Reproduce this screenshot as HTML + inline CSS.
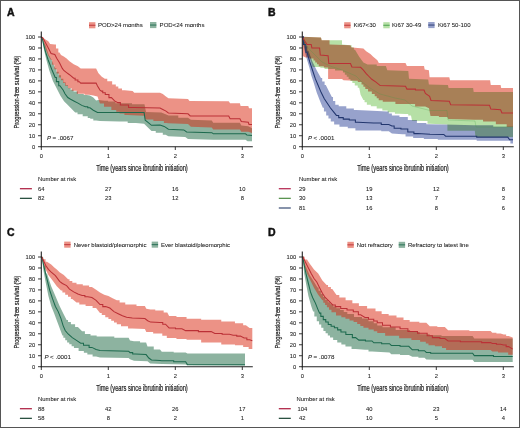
<!DOCTYPE html>
<html><head><meta charset="utf-8"><style>
html,body{margin:0;padding:0;background:#fff;}
.wrap{position:relative;width:520px;height:428px;overflow:hidden;box-sizing:border-box;}
svg{position:absolute;left:0;top:0;}
svg text{font-family:"Liberation Sans", sans-serif;}
</style></head><body><div class="wrap">
<svg width="520" height="428" viewBox="0 0 520 428">
<rect x="0" y="0" width="520" height="428" fill="#fff"/>
<text x="6.9" y="15.8" font-size="10.5" text-anchor="start" font-weight="bold" font-style="normal" fill="#111" stroke="#111" stroke-width="0.45" >A</text>
<rect x="89" y="22.2" width="6.4" height="6.1" fill="#ec9286"/>
<line x1="89" y1="25.25" x2="95.4" y2="25.25" stroke="#bb3036" stroke-width="0.9"/>
<text x="97.9" y="27.2" font-size="6.05" text-anchor="start" font-weight="normal" font-style="normal" fill="#222" stroke="#222" stroke-width="0.07" >POD&gt;24 months</text>
<rect x="150" y="22.0" width="6.4" height="6.1" fill="#8db3a0"/>
<line x1="150" y1="25.05" x2="156.4" y2="25.05" stroke="#1d6a4e" stroke-width="0.9"/>
<text x="159.6" y="27.2" font-size="6.05" text-anchor="start" font-weight="normal" font-style="normal" fill="#222" stroke="#222" stroke-width="0.07" >POD&lt;24 months</text>
<polygon points="41.30,37.00 45.50,45.00 48.80,55.00 51.70,60.00 55.20,68.20 56.38,68.20 56.38,71.70 58.73,71.70 58.73,75.20 59.90,75.20 61.05,75.20 61.05,78.70 63.35,78.70 63.35,82.20 64.50,82.20 65.67,82.20 65.67,85.10 68.03,85.10 68.03,88.00 69.20,88.00 70.65,88.00 70.65,89.75 73.55,89.75 73.55,91.50 75.00,91.50 77.95,91.50 77.95,93.90 80.90,93.90 83.80,93.90 83.80,95.00 86.70,95.00 90.00,95.50 93.30,97.60 96.10,100.40 98.30,99.90 104.80,100.70 108.10,100.70 108.10,101.60 111.40,101.60 115.45,101.60 115.45,103.20 119.50,103.20 132.00,103.20 132.00,104.30 144.50,104.30 146.00,112.00 161.30,112.50 165.00,114.00 168.60,115.50 178.30,115.50 178.30,117.70 188.00,117.70 190.90,119.80 211.80,120.60 213.20,122.70 239.90,122.70 241.30,125.50 248.30,126.20 252.00,128.30 252.00,141.20 247.60,141.20 245.50,139.80 213.30,139.70 188.00,139.00 185.20,136.90 168.40,136.20 165.60,134.80 162.80,134.80 162.80,132.70 160.00,132.70 155.75,132.70 155.75,131.00 151.50,131.00 147.40,127.10 144.10,123.80 135.90,123.00 127.70,123.00 127.70,121.40 119.50,121.40 100.00,121.00 96.10,120.60 93.30,120.60 93.30,118.70 90.50,118.70 90.00,118.00 87.75,118.00 87.75,116.20 85.50,116.20 82.70,116.20 82.70,114.30 79.90,114.30 77.55,114.30 77.55,112.40 75.20,112.40 71.50,108.70 67.80,105.00 64.00,101.20 60.30,95.60 57.50,90.00 55.50,86.00 52.90,81.00 49.30,70.50 46.40,60.00 43.60,48.00 42.10,38.20 41.30,37.50" fill="#8db3a0"/>
<polygon points="41.30,37.00 42.70,37.60 45.50,39.50 48.30,41.30 50.10,44.10 54.80,44.60 55.97,44.60 55.97,48.60 58.33,48.60 58.33,52.60 59.50,52.60 61.00,55.00 63.80,56.40 66.60,58.50 69.50,61.30 73.70,64.20 77.90,66.30 80.70,68.40 96.10,68.40 97.50,71.20 98.30,73.10 101.50,76.40 104.80,78.80 107.25,78.80 107.25,81.30 109.70,81.30 112.15,81.30 112.15,84.50 114.60,84.50 115.82,84.50 115.82,86.55 118.28,86.55 118.28,88.60 119.50,88.60 122.00,88.60 122.00,90.30 124.50,90.30 132.60,91.10 134.30,92.70 160.00,92.70 162.80,94.10 165.60,96.20 168.40,98.30 188.00,99.00 189.50,101.10 228.70,101.20 230.10,103.30 239.90,103.30 240.60,106.10 248.30,106.10 249.00,108.20 252.00,108.20 252.00,133.10 248.30,131.70 241.30,131.70 239.90,129.60 213.20,129.60 211.80,127.50 190.90,126.70 188.00,123.90 168.40,123.20 166.50,123.10 163.90,123.10 163.90,121.00 161.30,121.00 153.40,121.00 153.40,119.40 145.50,119.40 144.10,115.80 127.70,115.00 124.45,115.00 124.45,113.40 121.20,113.40 119.55,113.40 119.55,111.75 116.25,111.75 116.25,110.10 114.60,110.10 111.35,110.10 111.35,106.80 108.10,106.80 104.00,106.80 104.00,103.60 99.90,103.60 97.50,96.50 93.30,95.50 89.10,94.80 84.55,94.80 84.55,93.80 80.00,93.80 76.75,93.80 76.75,90.80 73.50,90.80 71.62,90.80 71.62,88.25 67.88,88.25 67.88,85.70 66.00,85.70 65.00,85.70 65.00,82.97 63.00,82.97 63.00,80.23 61.00,80.23 61.00,77.50 60.00,77.50 58.88,77.50 58.88,73.40 56.62,73.40 56.62,69.30 55.50,69.30 54.38,69.30 54.38,64.65 52.12,64.65 52.12,60.00 51.00,60.00 48.20,55.40 44.50,46.00 43.50,42.40 41.30,37.00" fill="rgba(217,37,13,0.5)"/>
<polyline points="41.30,37.00 42.10,37.50 43.50,43.80 45.60,52.20 48.20,60.00 51.70,69.30 55.20,77.50 56.38,77.50 56.38,81.60 58.73,81.60 58.73,85.70 59.90,85.70 63.10,90.00 65.00,93.70 67.80,97.50 70.60,99.30 74.30,101.20 78.00,103.10 81.80,105.40 85.50,106.80 87.75,106.80 87.75,107.80 90.00,107.80 93.30,110.20 97.50,112.40 144.10,112.60 145.20,120.20 148.30,122.60 151.50,125.30 160.00,125.00 164.20,126.40 168.40,129.20 183.80,129.90 186.60,132.00 211.90,132.70 213.30,133.80 245.50,133.80 246.90,134.90 252.00,135.60" fill="none" stroke="#1d6a4e" stroke-width="1.05" stroke-linejoin="miter"/>
<polyline points="41.30,37.00 42.70,37.60 45.50,42.70 48.30,47.90 51.10,53.50 54.80,54.40 56.70,58.20 59.50,62.80 62.30,68.40 63.80,70.50 66.60,72.60 69.50,74.70 73.70,78.20 75.10,78.20 75.10,79.95 77.90,79.95 77.90,81.70 79.30,81.70 80.70,83.10 96.10,83.10 97.50,85.90 100.00,90.10 101.50,91.10 102.75,91.10 102.75,92.75 105.25,92.75 105.25,94.40 106.50,94.40 108.95,94.40 108.95,97.60 111.40,97.60 114.60,100.90 117.90,102.60 120.35,102.60 120.35,105.00 122.80,105.00 128.55,105.00 128.55,107.50 134.30,107.50 160.00,108.10 162.80,109.50 165.60,110.90 168.40,113.00 188.00,113.80 190.20,115.90 228.70,116.00 230.10,118.80 239.90,118.80 241.30,121.60 248.30,122.30 249.00,124.40 252.00,124.40" fill="none" stroke="#bb3036" stroke-width="1.05" stroke-linejoin="miter"/>
<line x1="41.3" y1="31.6" x2="41.3" y2="147.2" stroke="#222" stroke-width="1.1"/>
<line x1="40.8" y1="146.7" x2="252.8" y2="146.7" stroke="#222" stroke-width="1.1"/>
<line x1="38.0" y1="37.00" x2="41.3" y2="37.00" stroke="#222" stroke-width="0.9"/>
<text x="35.2" y="39.05" font-size="5.8" text-anchor="end" font-weight="normal" font-style="normal" fill="#222" stroke="#222" stroke-width="0.07" >100</text>
<line x1="38.0" y1="47.97" x2="41.3" y2="47.97" stroke="#222" stroke-width="0.9"/>
<text x="35.2" y="50.02" font-size="5.8" text-anchor="end" font-weight="normal" font-style="normal" fill="#222" stroke="#222" stroke-width="0.07" >90</text>
<line x1="38.0" y1="58.94" x2="41.3" y2="58.94" stroke="#222" stroke-width="0.9"/>
<text x="35.2" y="60.99" font-size="5.8" text-anchor="end" font-weight="normal" font-style="normal" fill="#222" stroke="#222" stroke-width="0.07" >80</text>
<line x1="38.0" y1="69.91" x2="41.3" y2="69.91" stroke="#222" stroke-width="0.9"/>
<text x="35.2" y="71.96" font-size="5.8" text-anchor="end" font-weight="normal" font-style="normal" fill="#222" stroke="#222" stroke-width="0.07" >70</text>
<line x1="38.0" y1="80.88" x2="41.3" y2="80.88" stroke="#222" stroke-width="0.9"/>
<text x="35.2" y="82.93" font-size="5.8" text-anchor="end" font-weight="normal" font-style="normal" fill="#222" stroke="#222" stroke-width="0.07" >60</text>
<line x1="38.0" y1="91.85" x2="41.3" y2="91.85" stroke="#222" stroke-width="0.9"/>
<text x="35.2" y="93.90" font-size="5.8" text-anchor="end" font-weight="normal" font-style="normal" fill="#222" stroke="#222" stroke-width="0.07" >50</text>
<line x1="38.0" y1="102.82" x2="41.3" y2="102.82" stroke="#222" stroke-width="0.9"/>
<text x="35.2" y="104.87" font-size="5.8" text-anchor="end" font-weight="normal" font-style="normal" fill="#222" stroke="#222" stroke-width="0.07" >40</text>
<line x1="38.0" y1="113.79" x2="41.3" y2="113.79" stroke="#222" stroke-width="0.9"/>
<text x="35.2" y="115.84" font-size="5.8" text-anchor="end" font-weight="normal" font-style="normal" fill="#222" stroke="#222" stroke-width="0.07" >30</text>
<line x1="38.0" y1="124.76" x2="41.3" y2="124.76" stroke="#222" stroke-width="0.9"/>
<text x="35.2" y="126.81" font-size="5.8" text-anchor="end" font-weight="normal" font-style="normal" fill="#222" stroke="#222" stroke-width="0.07" >20</text>
<line x1="38.0" y1="135.73" x2="41.3" y2="135.73" stroke="#222" stroke-width="0.9"/>
<text x="35.2" y="137.78" font-size="5.8" text-anchor="end" font-weight="normal" font-style="normal" fill="#222" stroke="#222" stroke-width="0.07" >10</text>
<line x1="38.0" y1="146.70" x2="41.3" y2="146.70" stroke="#222" stroke-width="0.9"/>
<text x="35.2" y="148.75" font-size="5.8" text-anchor="end" font-weight="normal" font-style="normal" fill="#222" stroke="#222" stroke-width="0.07" >0</text>
<line x1="41.30" y1="146.7" x2="41.30" y2="150.0" stroke="#222" stroke-width="0.9"/>
<text x="41.30" y="158.2" font-size="5.8" text-anchor="middle" font-weight="normal" font-style="normal" fill="#222" stroke="#222" stroke-width="0.07" >0</text>
<line x1="108.30" y1="146.7" x2="108.30" y2="150.0" stroke="#222" stroke-width="0.9"/>
<text x="108.30" y="158.2" font-size="5.8" text-anchor="middle" font-weight="normal" font-style="normal" fill="#222" stroke="#222" stroke-width="0.07" >1</text>
<line x1="175.30" y1="146.7" x2="175.30" y2="150.0" stroke="#222" stroke-width="0.9"/>
<text x="175.30" y="158.2" font-size="5.8" text-anchor="middle" font-weight="normal" font-style="normal" fill="#222" stroke="#222" stroke-width="0.07" >2</text>
<line x1="242.30" y1="146.7" x2="242.30" y2="150.0" stroke="#222" stroke-width="0.9"/>
<text x="242.30" y="158.2" font-size="5.8" text-anchor="middle" font-weight="normal" font-style="normal" fill="#222" stroke="#222" stroke-width="0.07" >3</text>
<text x="96.2" y="170.6" font-size="8.4" text-anchor="start" font-weight="normal" font-style="normal" fill="#222" stroke="#222" stroke-width="0.07" textLength="91.6" lengthAdjust="spacingAndGlyphs" style="stroke-width:0.22">Time (years since ibrutinib initiation)</text>
<text transform="translate(19.4,128.5) rotate(-90)" font-size="8.0" fill="#222" stroke="#222" stroke-width="0.22" textLength="72.8" lengthAdjust="spacingAndGlyphs">Progression-free survival (%)</text>
<text x="38" y="181" font-size="6.1" text-anchor="start" font-weight="normal" font-style="normal" fill="#222" stroke="#222" stroke-width="0.07" textLength="38.2" lengthAdjust="spacingAndGlyphs">Number at risk</text>
<text x="47" y="139.6" font-size="6.1" text-anchor="start" font-weight="normal" font-style="italic" fill="#222" stroke="#222" stroke-width="0.07" >P</text>
<text x="52.6" y="139.6" font-size="6.2" text-anchor="start" font-weight="normal" font-style="normal" fill="#222" stroke="#222" stroke-width="0.07" >= .0067</text>
<line x1="19.9" y1="188.70" x2="31.9" y2="188.70" stroke="#b02848" stroke-width="1.3"/>
<text x="41.30" y="190.60" font-size="5.8" text-anchor="middle" font-weight="normal" font-style="normal" fill="#222" stroke="#222" stroke-width="0.07" >64</text>
<text x="108.30" y="190.60" font-size="5.8" text-anchor="middle" font-weight="normal" font-style="normal" fill="#222" stroke="#222" stroke-width="0.07" >27</text>
<text x="175.30" y="190.60" font-size="5.8" text-anchor="middle" font-weight="normal" font-style="normal" fill="#222" stroke="#222" stroke-width="0.07" >16</text>
<text x="242.30" y="190.60" font-size="5.8" text-anchor="middle" font-weight="normal" font-style="normal" fill="#222" stroke="#222" stroke-width="0.07" >10</text>
<line x1="19.9" y1="198.35" x2="31.9" y2="198.35" stroke="#2a5040" stroke-width="1.3"/>
<text x="41.30" y="200.25" font-size="5.8" text-anchor="middle" font-weight="normal" font-style="normal" fill="#222" stroke="#222" stroke-width="0.07" >82</text>
<text x="108.30" y="200.25" font-size="5.8" text-anchor="middle" font-weight="normal" font-style="normal" fill="#222" stroke="#222" stroke-width="0.07" >23</text>
<text x="175.30" y="200.25" font-size="5.8" text-anchor="middle" font-weight="normal" font-style="normal" fill="#222" stroke="#222" stroke-width="0.07" >12</text>
<text x="242.30" y="200.25" font-size="5.8" text-anchor="middle" font-weight="normal" font-style="normal" fill="#222" stroke="#222" stroke-width="0.07" >8</text>
<text x="268.0" y="15.9" font-size="10.5" text-anchor="start" font-weight="bold" font-style="normal" fill="#111" stroke="#111" stroke-width="0.45" >B</text>
<rect x="344.2" y="22.2" width="6.4" height="6.1" fill="#ec9286"/>
<line x1="344.2" y1="25.25" x2="350.59999999999997" y2="25.25" stroke="#bb3036" stroke-width="0.9"/>
<text x="353.5" y="27.2" font-size="6.05" text-anchor="start" font-weight="normal" font-style="normal" fill="#222" stroke="#222" stroke-width="0.07" >Ki67&lt;30</text>
<rect x="383.3" y="22.2" width="6.4" height="6.1" fill="#b6e0a6"/>
<line x1="383.3" y1="25.25" x2="389.7" y2="25.25" stroke="#3f9a45" stroke-width="0.9"/>
<text x="392" y="27.2" font-size="6.05" text-anchor="start" font-weight="normal" font-style="normal" fill="#222" stroke="#222" stroke-width="0.07" >Ki67 30-49</text>
<rect x="428.2" y="22.0" width="6.4" height="6.1" fill="#97a2cc"/>
<line x1="428.2" y1="25.05" x2="434.59999999999997" y2="25.05" stroke="#22366e" stroke-width="0.9"/>
<text x="437.9" y="27.2" font-size="6.05" text-anchor="start" font-weight="normal" font-style="normal" fill="#222" stroke="#222" stroke-width="0.07" >Ki67 50-100</text>
<polygon points="302.30,36.80 303.32,36.80 303.32,41.47 305.35,41.47 305.35,46.13 307.38,46.13 307.38,50.80 308.40,50.80 312.60,62.00 316.80,70.50 321.00,78.00 322.20,78.00 322.20,81.50 324.60,81.50 324.60,85.00 325.80,85.00 328.80,91.10 331.90,97.10 333.02,97.10 333.02,100.90 335.27,100.90 335.27,104.70 336.40,104.70 338.70,104.70 338.70,106.20 341.00,106.20 346.30,106.20 346.30,108.50 351.60,108.50 353.85,108.50 353.85,110.00 356.10,110.00 372.10,110.80 387.30,111.60 388.82,111.60 388.82,113.50 391.88,113.50 391.88,115.40 393.40,115.40 399.45,115.40 399.45,116.90 405.50,116.90 407.80,116.90 407.80,119.90 410.10,119.90 416.90,119.90 416.90,122.90 423.70,122.90 426.35,122.90 426.35,124.20 429.00,124.20 455.00,124.70 473.50,125.30 493.25,125.30 493.25,126.70 513.00,126.70 513.00,143.50 510.40,143.50 510.40,140.80 507.80,140.80 476.70,140.80 476.70,139.80 445.60,139.80 437.80,139.80 437.80,138.90 430.00,138.90 423.85,138.90 423.85,138.10 417.70,138.10 413.15,138.10 413.15,136.60 408.60,136.60 405.55,136.60 405.55,134.30 402.50,134.30 391.90,133.60 388.80,131.30 381.25,131.30 381.25,130.50 373.70,130.50 357.70,130.50 355.40,130.50 355.40,128.20 353.10,128.20 347.80,128.20 347.80,126.70 342.50,126.70 339.45,126.70 339.45,124.50 336.40,124.50 334.15,124.50 334.15,121.40 331.90,121.40 330.75,121.40 330.75,118.40 328.45,118.40 328.45,115.40 327.30,115.40 326.18,115.40 326.18,111.60 323.93,111.60 323.93,107.80 322.80,107.80 319.70,100.20 316.70,92.60 313.50,82.00 311.30,75.50 309.50,68.00 306.70,58.70 303.90,47.50 302.30,39.60" fill="#97a2cc" style="mix-blend-mode:multiply"/>
<polygon points="302.30,36.80 321.00,37.50 321.70,40.30 342.00,40.30 342.00,44.50 350.50,45.20 351.62,45.20 351.62,47.50 353.88,47.50 353.88,49.80 355.00,49.80 359.20,56.80 363.40,62.40 367.60,64.50 376.75,64.50 376.75,66.00 385.90,66.00 387.30,70.20 408.30,71.00 409.00,78.80 428.20,79.50 428.90,84.40 447.90,85.10 448.60,88.00 473.10,88.10 473.70,92.10 513.00,92.10 513.00,137.00 475.50,137.00 474.80,130.70 447.40,130.70 447.40,124.50 430.00,123.70 427.50,123.70 427.50,121.00 425.00,121.00 412.00,120.80 411.00,115.50 408.25,115.50 408.25,114.00 405.50,114.00 399.50,113.80 394.90,113.80 394.90,112.30 390.30,112.30 387.65,112.30 387.65,110.40 382.35,110.40 382.35,108.50 379.70,108.50 376.70,108.50 376.70,106.20 373.70,106.20 370.85,106.20 370.85,104.70 368.00,104.70 366.85,104.70 366.85,102.35 364.55,102.35 364.55,100.00 363.40,100.00 360.60,94.70 359.20,87.70 357.73,87.70 357.73,85.40 354.77,85.40 354.77,83.10 353.30,83.10 352.36,83.10 352.36,81.00 350.48,81.00 350.48,78.90 348.59,78.90 348.59,76.80 346.71,76.80 346.71,74.70 344.82,74.70 344.82,72.60 342.94,72.60 342.94,70.50 342.00,70.50 335.05,70.50 335.05,69.10 328.10,69.10 324.55,69.10 324.55,67.70 321.00,67.70 319.60,67.00 312.60,67.00 309.80,57.80 305.60,50.80 302.30,38.20" fill="#b6e0a6" style="mix-blend-mode:multiply"/>
<polygon points="302.30,36.80 321.00,37.50 321.70,40.30 329.50,40.30 329.50,44.50 350.50,45.20 351.20,47.30 355.00,47.70 363.40,48.40 366.20,51.20 370.40,54.00 373.20,56.80 377.40,60.30 378.80,63.10 405.50,63.10 406.90,66.00 424.00,66.10 424.70,69.60 428.90,70.30 429.60,77.30 449.30,77.30 450.00,80.30 490.10,80.30 490.80,84.90 500.60,84.90 501.20,88.10 513.00,88.10 513.00,127.00 506.70,127.00 506.70,124.30 500.40,124.30 495.85,124.30 495.85,121.60 491.30,121.60 483.05,121.60 483.05,119.70 474.80,119.70 448.30,118.90 447.30,117.00 438.90,117.00 438.90,116.00 430.50,116.00 429.00,108.30 425.20,106.40 415.10,106.40 415.10,104.00 405.00,104.00 395.40,104.00 395.40,101.70 385.80,101.70 382.75,101.70 382.75,100.20 379.70,100.20 378.70,100.20 378.70,98.17 376.70,98.17 376.70,96.13 374.70,96.13 374.70,94.10 373.70,94.10 371.82,94.10 371.82,91.60 368.07,91.60 368.07,89.10 366.20,89.10 365.27,89.10 365.27,86.77 363.40,86.77 363.40,84.43 361.53,84.43 361.53,82.10 360.60,82.10 357.80,82.10 357.80,80.70 355.00,80.70 343.50,80.30 342.00,78.90 328.10,78.90 328.10,67.50 323.85,67.50 323.85,66.30 319.60,66.30 318.73,66.30 318.73,64.35 316.98,64.35 316.98,62.40 315.23,62.40 315.23,60.45 313.48,60.45 313.48,58.50 312.60,58.50 309.10,58.50 309.10,57.50 305.60,57.50 302.60,56.00 302.30,36.80" fill="#ec9286" style="mix-blend-mode:multiply"/>
<polyline points="302.30,36.80 303.48,36.80 303.48,44.50 305.82,44.50 305.82,52.20 307.00,52.20 309.80,62.00 312.60,70.50 315.40,78.90 318.20,85.50 321.20,92.60 324.30,98.70 327.30,103.20 330.30,107.80 333.40,111.60 336.40,115.40 338.70,115.40 338.70,117.60 341.00,117.60 343.25,117.60 343.25,119.10 345.50,119.10 349.30,119.10 349.30,119.90 353.10,119.90 355.40,119.90 355.40,122.20 357.70,122.20 373.70,122.90 381.25,122.90 381.25,124.50 388.80,124.50 391.90,126.00 394.15,126.00 394.15,128.20 396.40,128.20 400.95,128.20 400.95,129.00 405.50,129.00 407.80,129.00 407.80,132.00 410.10,132.00 413.90,132.00 413.90,133.60 417.70,133.60 430.00,134.30 443.80,134.40 445.60,136.20 476.70,136.20 476.70,137.10 507.80,137.10 509.60,139.80 513.00,139.80" fill="none" stroke="#22366e" stroke-width="1.05" stroke-linejoin="miter"/>
<polyline points="302.30,37.00 305.00,44.00 310.00,50.00 316.00,56.00 322.00,62.00 330.00,66.00 342.00,70.00 356.00,76.00 362.00,82.00 370.00,88.00 380.00,94.00 395.00,98.00 405.00,100.00 412.00,106.00 430.00,110.50 447.00,110.50 448.00,120.00 475.00,121.00 476.00,127.00 513.00,127.00" fill="none" stroke="#3f9a45" stroke-width="1" opacity="0.25"/>
<polyline points="302.30,36.80 305.60,42.40 307.00,44.50 311.20,44.50 311.90,48.00 319.60,48.00 320.30,55.00 328.10,55.70 328.80,63.50 350.50,63.50 351.90,67.00 360.60,67.30 363.40,70.20 366.20,73.70 369.00,76.50 371.80,79.30 376.00,82.10 380.20,85.60 405.50,86.30 406.90,89.10 415.45,89.10 415.45,90.00 424.00,90.00 425.40,93.50 429.60,96.30 431.00,100.50 449.30,101.20 450.70,104.70 489.50,105.20 490.80,109.10 500.60,109.70 501.90,113.00 513.00,113.00" fill="none" stroke="#bb3036" stroke-width="1.05" stroke-linejoin="miter"/>
<line x1="302.3" y1="31.6" x2="302.3" y2="147.2" stroke="#222" stroke-width="1.1"/>
<line x1="301.8" y1="146.7" x2="513.8" y2="146.7" stroke="#222" stroke-width="1.1"/>
<line x1="299.0" y1="37.00" x2="302.3" y2="37.00" stroke="#222" stroke-width="0.9"/>
<text x="296.2" y="39.05" font-size="5.8" text-anchor="end" font-weight="normal" font-style="normal" fill="#222" stroke="#222" stroke-width="0.07" >100</text>
<line x1="299.0" y1="47.97" x2="302.3" y2="47.97" stroke="#222" stroke-width="0.9"/>
<text x="296.2" y="50.02" font-size="5.8" text-anchor="end" font-weight="normal" font-style="normal" fill="#222" stroke="#222" stroke-width="0.07" >90</text>
<line x1="299.0" y1="58.94" x2="302.3" y2="58.94" stroke="#222" stroke-width="0.9"/>
<text x="296.2" y="60.99" font-size="5.8" text-anchor="end" font-weight="normal" font-style="normal" fill="#222" stroke="#222" stroke-width="0.07" >80</text>
<line x1="299.0" y1="69.91" x2="302.3" y2="69.91" stroke="#222" stroke-width="0.9"/>
<text x="296.2" y="71.96" font-size="5.8" text-anchor="end" font-weight="normal" font-style="normal" fill="#222" stroke="#222" stroke-width="0.07" >70</text>
<line x1="299.0" y1="80.88" x2="302.3" y2="80.88" stroke="#222" stroke-width="0.9"/>
<text x="296.2" y="82.93" font-size="5.8" text-anchor="end" font-weight="normal" font-style="normal" fill="#222" stroke="#222" stroke-width="0.07" >60</text>
<line x1="299.0" y1="91.85" x2="302.3" y2="91.85" stroke="#222" stroke-width="0.9"/>
<text x="296.2" y="93.90" font-size="5.8" text-anchor="end" font-weight="normal" font-style="normal" fill="#222" stroke="#222" stroke-width="0.07" >50</text>
<line x1="299.0" y1="102.82" x2="302.3" y2="102.82" stroke="#222" stroke-width="0.9"/>
<text x="296.2" y="104.87" font-size="5.8" text-anchor="end" font-weight="normal" font-style="normal" fill="#222" stroke="#222" stroke-width="0.07" >40</text>
<line x1="299.0" y1="113.79" x2="302.3" y2="113.79" stroke="#222" stroke-width="0.9"/>
<text x="296.2" y="115.84" font-size="5.8" text-anchor="end" font-weight="normal" font-style="normal" fill="#222" stroke="#222" stroke-width="0.07" >30</text>
<line x1="299.0" y1="124.76" x2="302.3" y2="124.76" stroke="#222" stroke-width="0.9"/>
<text x="296.2" y="126.81" font-size="5.8" text-anchor="end" font-weight="normal" font-style="normal" fill="#222" stroke="#222" stroke-width="0.07" >20</text>
<line x1="299.0" y1="135.73" x2="302.3" y2="135.73" stroke="#222" stroke-width="0.9"/>
<text x="296.2" y="137.78" font-size="5.8" text-anchor="end" font-weight="normal" font-style="normal" fill="#222" stroke="#222" stroke-width="0.07" >10</text>
<line x1="299.0" y1="146.70" x2="302.3" y2="146.70" stroke="#222" stroke-width="0.9"/>
<text x="296.2" y="148.75" font-size="5.8" text-anchor="end" font-weight="normal" font-style="normal" fill="#222" stroke="#222" stroke-width="0.07" >0</text>
<line x1="302.30" y1="146.7" x2="302.30" y2="150.0" stroke="#222" stroke-width="0.9"/>
<text x="302.30" y="158.2" font-size="5.8" text-anchor="middle" font-weight="normal" font-style="normal" fill="#222" stroke="#222" stroke-width="0.07" >0</text>
<line x1="369.30" y1="146.7" x2="369.30" y2="150.0" stroke="#222" stroke-width="0.9"/>
<text x="369.30" y="158.2" font-size="5.8" text-anchor="middle" font-weight="normal" font-style="normal" fill="#222" stroke="#222" stroke-width="0.07" >1</text>
<line x1="436.30" y1="146.7" x2="436.30" y2="150.0" stroke="#222" stroke-width="0.9"/>
<text x="436.30" y="158.2" font-size="5.8" text-anchor="middle" font-weight="normal" font-style="normal" fill="#222" stroke="#222" stroke-width="0.07" >2</text>
<line x1="503.30" y1="146.7" x2="503.30" y2="150.0" stroke="#222" stroke-width="0.9"/>
<text x="503.30" y="158.2" font-size="5.8" text-anchor="middle" font-weight="normal" font-style="normal" fill="#222" stroke="#222" stroke-width="0.07" >3</text>
<text x="357.2" y="170.6" font-size="8.4" text-anchor="start" font-weight="normal" font-style="normal" fill="#222" stroke="#222" stroke-width="0.07" textLength="91.6" lengthAdjust="spacingAndGlyphs" style="stroke-width:0.22">Time (years since ibrutinib initiation)</text>
<text transform="translate(280.4,128.5) rotate(-90)" font-size="8.0" fill="#222" stroke="#222" stroke-width="0.22" textLength="72.8" lengthAdjust="spacingAndGlyphs">Progression-free survival (%)</text>
<text x="299" y="181" font-size="6.1" text-anchor="start" font-weight="normal" font-style="normal" fill="#222" stroke="#222" stroke-width="0.07" textLength="38.2" lengthAdjust="spacingAndGlyphs">Number at risk</text>
<text x="307.9" y="139.6" font-size="6.1" text-anchor="start" font-weight="normal" font-style="italic" fill="#222" stroke="#222" stroke-width="0.07" >P</text>
<text x="313.5" y="139.6" font-size="6.2" text-anchor="start" font-weight="normal" font-style="normal" fill="#222" stroke="#222" stroke-width="0.07" >&lt; .0001</text>
<line x1="278.8" y1="188.70" x2="290.8" y2="188.70" stroke="#b83058" stroke-width="1.3"/>
<text x="302.30" y="190.60" font-size="5.8" text-anchor="middle" font-weight="normal" font-style="normal" fill="#222" stroke="#222" stroke-width="0.07" >29</text>
<text x="369.30" y="190.60" font-size="5.8" text-anchor="middle" font-weight="normal" font-style="normal" fill="#222" stroke="#222" stroke-width="0.07" >19</text>
<text x="436.30" y="190.60" font-size="5.8" text-anchor="middle" font-weight="normal" font-style="normal" fill="#222" stroke="#222" stroke-width="0.07" >12</text>
<text x="503.30" y="190.60" font-size="5.8" text-anchor="middle" font-weight="normal" font-style="normal" fill="#222" stroke="#222" stroke-width="0.07" >8</text>
<line x1="278.8" y1="198.35" x2="290.8" y2="198.35" stroke="#5a9450" stroke-width="1.3"/>
<text x="302.30" y="200.25" font-size="5.8" text-anchor="middle" font-weight="normal" font-style="normal" fill="#222" stroke="#222" stroke-width="0.07" >30</text>
<text x="369.30" y="200.25" font-size="5.8" text-anchor="middle" font-weight="normal" font-style="normal" fill="#222" stroke="#222" stroke-width="0.07" >13</text>
<text x="436.30" y="200.25" font-size="5.8" text-anchor="middle" font-weight="normal" font-style="normal" fill="#222" stroke="#222" stroke-width="0.07" >7</text>
<text x="503.30" y="200.25" font-size="5.8" text-anchor="middle" font-weight="normal" font-style="normal" fill="#222" stroke="#222" stroke-width="0.07" >3</text>
<line x1="278.8" y1="208.00" x2="290.8" y2="208.00" stroke="#46587e" stroke-width="1.3"/>
<text x="302.30" y="209.90" font-size="5.8" text-anchor="middle" font-weight="normal" font-style="normal" fill="#222" stroke="#222" stroke-width="0.07" >81</text>
<text x="369.30" y="209.90" font-size="5.8" text-anchor="middle" font-weight="normal" font-style="normal" fill="#222" stroke="#222" stroke-width="0.07" >16</text>
<text x="436.30" y="209.90" font-size="5.8" text-anchor="middle" font-weight="normal" font-style="normal" fill="#222" stroke="#222" stroke-width="0.07" >8</text>
<text x="503.30" y="209.90" font-size="5.8" text-anchor="middle" font-weight="normal" font-style="normal" fill="#222" stroke="#222" stroke-width="0.07" >6</text>
<text x="7.0" y="235.9" font-size="10.5" text-anchor="start" font-weight="bold" font-style="normal" fill="#111" stroke="#111" stroke-width="0.45" >C</text>
<rect x="64.2" y="241.6" width="6.4" height="6.1" fill="#ec9286"/>
<line x1="64.2" y1="244.65" x2="70.60000000000001" y2="244.65" stroke="#bb3036" stroke-width="0.9"/>
<text x="73.7" y="247" font-size="6.0" text-anchor="start" font-weight="normal" font-style="normal" fill="#222" stroke="#222" stroke-width="0.07" >Never blastoid/pleomorphic</text>
<rect x="151.7" y="241.6" width="6.4" height="6.1" fill="#8db3a0"/>
<line x1="151.7" y1="244.65" x2="158.1" y2="244.65" stroke="#1d6a4e" stroke-width="0.9"/>
<text x="161" y="247" font-size="6.0" text-anchor="start" font-weight="normal" font-style="normal" fill="#222" stroke="#222" stroke-width="0.07" >Ever blastoid/pleomorphic</text>
<polygon points="41.30,256.70 42.10,257.50 43.33,257.50 43.33,265.55 45.77,265.55 45.77,273.60 47.00,273.60 51.20,286.30 55.40,296.10 59.60,305.90 63.80,314.40 66.60,320.00 68.02,320.00 68.02,322.10 70.88,322.10 70.88,324.20 72.30,324.20 75.10,324.20 75.10,327.00 77.90,327.00 82.10,331.20 84.90,331.20 84.90,334.00 87.70,334.00 90.50,334.00 90.50,335.50 93.30,335.50 96.65,335.50 96.65,336.50 100.00,336.50 114.30,336.50 114.30,337.80 128.60,337.80 130.00,340.50 134.00,341.20 140.05,341.20 140.05,342.50 146.10,342.50 147.50,346.50 153.75,346.50 153.75,349.50 160.00,349.50 161.80,351.70 173.70,351.70 173.70,352.60 185.60,352.60 187.40,353.50 245.00,353.50 245.00,365.40 187.40,365.40 185.60,364.50 162.30,364.00 150.20,363.40 147.50,361.30 134.00,360.70 130.00,359.30 128.60,358.00 100.00,357.50 96.10,356.50 92.60,356.50 92.60,354.40 89.10,354.40 87.35,354.40 87.35,352.65 83.85,352.65 83.85,350.90 82.10,350.90 78.60,350.90 78.60,348.10 75.10,348.10 73.93,348.10 73.93,346.23 71.60,346.23 71.60,344.37 69.27,344.37 69.27,342.50 68.10,342.50 67.15,342.50 67.15,340.17 65.25,340.17 65.25,337.83 63.35,337.83 63.35,335.50 62.40,335.50 58.20,324.20 54.00,313.00 51.20,306.00 48.40,296.10 45.60,282.00 43.50,270.80 42.10,259.60 41.30,257.00" fill="#8db3a0"/>
<polygon points="41.30,256.70 42.72,256.70 42.72,259.20 45.58,259.20 45.58,261.70 47.00,261.70 51.20,264.50 54.00,267.30 56.80,269.40 59.60,272.20 63.80,275.00 68.10,279.20 69.50,279.20 69.50,281.00 72.30,281.00 72.30,282.80 73.70,282.80 76.50,282.80 76.50,284.20 79.30,284.20 82.80,284.20 82.80,285.60 86.30,285.60 89.10,285.60 89.10,287.00 91.90,287.00 96.10,289.80 100.00,292.60 104.20,294.70 108.40,296.10 112.60,298.20 116.80,300.30 119.60,300.30 119.60,302.40 122.40,302.40 125.25,302.40 125.25,304.50 128.10,304.50 136.50,304.50 136.50,305.90 144.90,305.90 146.30,308.80 150.50,309.50 155.25,309.50 155.25,310.50 160.00,310.50 163.65,310.50 163.65,312.40 167.30,312.40 169.10,316.00 176.45,316.00 176.45,316.90 183.80,316.90 186.55,316.90 186.55,318.80 189.30,318.80 201.15,318.80 201.15,319.70 213.00,319.70 221.25,319.70 221.25,321.50 229.50,321.50 234.95,321.50 234.95,323.30 240.40,323.30 243.15,323.30 243.15,325.20 245.90,325.20 249.60,327.90 252.30,327.90 252.30,349.00 251.40,348.90 248.65,348.90 248.65,347.10 245.90,347.10 243.15,347.10 243.15,345.30 240.40,345.30 234.95,345.30 234.95,344.40 229.50,344.40 221.25,344.40 221.25,342.50 213.00,342.50 201.15,342.50 201.15,339.80 189.30,339.80 186.55,339.80 186.55,338.90 183.80,338.90 176.45,338.90 176.45,338.00 169.10,338.00 166.82,338.00 166.82,335.70 162.28,335.70 162.28,333.40 160.00,333.40 153.15,333.40 153.15,331.90 146.30,331.90 144.90,329.10 132.30,328.40 128.05,328.40 128.05,326.30 123.80,326.30 121.00,326.30 121.00,324.20 118.20,324.20 116.80,324.20 116.80,322.45 114.00,322.45 114.00,320.70 112.60,320.70 111.20,320.70 111.20,318.95 108.40,318.95 108.40,317.20 107.00,317.20 105.25,317.20 105.25,315.10 101.75,315.10 101.75,313.00 100.00,313.00 96.10,308.00 92.60,308.00 92.60,305.90 89.10,305.90 85.60,305.90 85.60,304.50 82.10,304.50 79.30,304.50 79.30,302.40 76.50,302.40 72.30,298.90 70.88,298.90 70.88,296.80 68.02,296.80 68.02,294.70 66.60,294.70 65.20,294.70 65.20,292.60 62.40,292.60 62.40,290.50 61.00,290.50 56.80,286.30 52.60,280.60 48.40,275.00 44.20,266.60 41.30,256.70" fill="rgba(217,37,13,0.5)"/>
<polyline points="41.30,256.70 42.10,257.50 44.20,268.00 47.00,279.20 49.80,290.50 52.60,298.90 55.40,306.50 58.20,311.60 61.00,318.60 63.10,325.60 65.20,330.50 68.10,334.00 72.30,337.60 76.50,340.40 80.70,343.20 83.50,343.20 83.50,345.30 86.30,345.30 89.10,345.30 89.10,347.40 91.90,347.40 96.10,349.50 100.00,350.50 128.60,351.20 130.00,352.60 132.70,352.60 132.70,353.90 135.40,353.90 146.10,354.60 148.80,358.00 151.50,360.00 160.00,360.50 161.80,360.80 173.70,360.80 173.70,361.70 185.60,361.70 187.40,364.50 245.00,364.80" fill="none" stroke="#1d6a4e" stroke-width="1.05" stroke-linejoin="miter"/>
<polyline points="41.30,256.70 42.10,257.50 45.60,265.20 48.40,269.40 51.20,272.20 55.40,275.70 59.60,281.30 62.40,283.50 66.60,285.60 69.50,289.10 73.70,291.90 77.90,294.00 82.10,295.40 84.90,295.40 84.90,296.80 87.70,296.80 91.90,297.50 96.10,300.30 100.00,304.50 102.80,304.50 102.80,306.60 105.60,306.60 109.80,308.00 114.00,311.60 118.20,313.70 122.40,315.80 126.60,317.20 132.30,317.90 144.90,318.60 147.70,320.70 150.50,322.10 160.00,322.40 162.75,322.40 162.75,324.20 165.50,324.20 169.10,327.90 175.50,327.90 175.50,328.80 181.90,328.80 185.60,330.60 198.40,330.60 198.40,331.60 211.20,331.60 214.80,333.40 222.15,333.40 222.15,334.30 229.50,334.30 233.10,335.20 236.75,335.20 236.75,336.10 240.40,336.10 244.10,338.00 246.85,338.00 246.85,339.80 249.60,339.80 252.30,340.70" fill="none" stroke="#bb3036" stroke-width="1.05" stroke-linejoin="miter"/>
<line x1="41.3" y1="251.6" x2="41.3" y2="367.2" stroke="#222" stroke-width="1.1"/>
<line x1="40.8" y1="366.7" x2="252.8" y2="366.7" stroke="#222" stroke-width="1.1"/>
<line x1="38.0" y1="257.00" x2="41.3" y2="257.00" stroke="#222" stroke-width="0.9"/>
<text x="35.2" y="259.05" font-size="5.8" text-anchor="end" font-weight="normal" font-style="normal" fill="#222" stroke="#222" stroke-width="0.07" >100</text>
<line x1="38.0" y1="267.97" x2="41.3" y2="267.97" stroke="#222" stroke-width="0.9"/>
<text x="35.2" y="270.02" font-size="5.8" text-anchor="end" font-weight="normal" font-style="normal" fill="#222" stroke="#222" stroke-width="0.07" >90</text>
<line x1="38.0" y1="278.94" x2="41.3" y2="278.94" stroke="#222" stroke-width="0.9"/>
<text x="35.2" y="280.99" font-size="5.8" text-anchor="end" font-weight="normal" font-style="normal" fill="#222" stroke="#222" stroke-width="0.07" >80</text>
<line x1="38.0" y1="289.91" x2="41.3" y2="289.91" stroke="#222" stroke-width="0.9"/>
<text x="35.2" y="291.96" font-size="5.8" text-anchor="end" font-weight="normal" font-style="normal" fill="#222" stroke="#222" stroke-width="0.07" >70</text>
<line x1="38.0" y1="300.88" x2="41.3" y2="300.88" stroke="#222" stroke-width="0.9"/>
<text x="35.2" y="302.93" font-size="5.8" text-anchor="end" font-weight="normal" font-style="normal" fill="#222" stroke="#222" stroke-width="0.07" >60</text>
<line x1="38.0" y1="311.85" x2="41.3" y2="311.85" stroke="#222" stroke-width="0.9"/>
<text x="35.2" y="313.90" font-size="5.8" text-anchor="end" font-weight="normal" font-style="normal" fill="#222" stroke="#222" stroke-width="0.07" >50</text>
<line x1="38.0" y1="322.82" x2="41.3" y2="322.82" stroke="#222" stroke-width="0.9"/>
<text x="35.2" y="324.87" font-size="5.8" text-anchor="end" font-weight="normal" font-style="normal" fill="#222" stroke="#222" stroke-width="0.07" >40</text>
<line x1="38.0" y1="333.79" x2="41.3" y2="333.79" stroke="#222" stroke-width="0.9"/>
<text x="35.2" y="335.84" font-size="5.8" text-anchor="end" font-weight="normal" font-style="normal" fill="#222" stroke="#222" stroke-width="0.07" >30</text>
<line x1="38.0" y1="344.76" x2="41.3" y2="344.76" stroke="#222" stroke-width="0.9"/>
<text x="35.2" y="346.81" font-size="5.8" text-anchor="end" font-weight="normal" font-style="normal" fill="#222" stroke="#222" stroke-width="0.07" >20</text>
<line x1="38.0" y1="355.73" x2="41.3" y2="355.73" stroke="#222" stroke-width="0.9"/>
<text x="35.2" y="357.78" font-size="5.8" text-anchor="end" font-weight="normal" font-style="normal" fill="#222" stroke="#222" stroke-width="0.07" >10</text>
<line x1="38.0" y1="366.70" x2="41.3" y2="366.70" stroke="#222" stroke-width="0.9"/>
<text x="35.2" y="368.75" font-size="5.8" text-anchor="end" font-weight="normal" font-style="normal" fill="#222" stroke="#222" stroke-width="0.07" >0</text>
<line x1="41.30" y1="366.7" x2="41.30" y2="370.0" stroke="#222" stroke-width="0.9"/>
<text x="41.30" y="378.2" font-size="5.8" text-anchor="middle" font-weight="normal" font-style="normal" fill="#222" stroke="#222" stroke-width="0.07" >0</text>
<line x1="108.30" y1="366.7" x2="108.30" y2="370.0" stroke="#222" stroke-width="0.9"/>
<text x="108.30" y="378.2" font-size="5.8" text-anchor="middle" font-weight="normal" font-style="normal" fill="#222" stroke="#222" stroke-width="0.07" >1</text>
<line x1="175.30" y1="366.7" x2="175.30" y2="370.0" stroke="#222" stroke-width="0.9"/>
<text x="175.30" y="378.2" font-size="5.8" text-anchor="middle" font-weight="normal" font-style="normal" fill="#222" stroke="#222" stroke-width="0.07" >2</text>
<line x1="242.30" y1="366.7" x2="242.30" y2="370.0" stroke="#222" stroke-width="0.9"/>
<text x="242.30" y="378.2" font-size="5.8" text-anchor="middle" font-weight="normal" font-style="normal" fill="#222" stroke="#222" stroke-width="0.07" >3</text>
<text x="96.2" y="390.6" font-size="8.4" text-anchor="start" font-weight="normal" font-style="normal" fill="#222" stroke="#222" stroke-width="0.07" textLength="91.6" lengthAdjust="spacingAndGlyphs" style="stroke-width:0.22">Time (years since ibrutinib initiation)</text>
<text transform="translate(19.4,348.5) rotate(-90)" font-size="8.0" fill="#222" stroke="#222" stroke-width="0.22" textLength="72.8" lengthAdjust="spacingAndGlyphs">Progression-free survival (%)</text>
<text x="38" y="401" font-size="6.1" text-anchor="start" font-weight="normal" font-style="normal" fill="#222" stroke="#222" stroke-width="0.07" textLength="38.2" lengthAdjust="spacingAndGlyphs">Number at risk</text>
<text x="44.5" y="359.2" font-size="6.1" text-anchor="start" font-weight="normal" font-style="italic" fill="#222" stroke="#222" stroke-width="0.07" >P</text>
<text x="50.1" y="359.2" font-size="6.2" text-anchor="start" font-weight="normal" font-style="normal" fill="#222" stroke="#222" stroke-width="0.07" >&lt; .0001</text>
<line x1="19.9" y1="408.70" x2="31.9" y2="408.70" stroke="#b02848" stroke-width="1.3"/>
<text x="41.30" y="410.60" font-size="5.8" text-anchor="middle" font-weight="normal" font-style="normal" fill="#222" stroke="#222" stroke-width="0.07" >88</text>
<text x="108.30" y="410.60" font-size="5.8" text-anchor="middle" font-weight="normal" font-style="normal" fill="#222" stroke="#222" stroke-width="0.07" >42</text>
<text x="175.30" y="410.60" font-size="5.8" text-anchor="middle" font-weight="normal" font-style="normal" fill="#222" stroke="#222" stroke-width="0.07" >26</text>
<text x="242.30" y="410.60" font-size="5.8" text-anchor="middle" font-weight="normal" font-style="normal" fill="#222" stroke="#222" stroke-width="0.07" >17</text>
<line x1="19.9" y1="418.35" x2="31.9" y2="418.35" stroke="#2a5040" stroke-width="1.3"/>
<text x="41.30" y="420.25" font-size="5.8" text-anchor="middle" font-weight="normal" font-style="normal" fill="#222" stroke="#222" stroke-width="0.07" >58</text>
<text x="108.30" y="420.25" font-size="5.8" text-anchor="middle" font-weight="normal" font-style="normal" fill="#222" stroke="#222" stroke-width="0.07" >8</text>
<text x="175.30" y="420.25" font-size="5.8" text-anchor="middle" font-weight="normal" font-style="normal" fill="#222" stroke="#222" stroke-width="0.07" >2</text>
<text x="242.30" y="420.25" font-size="5.8" text-anchor="middle" font-weight="normal" font-style="normal" fill="#222" stroke="#222" stroke-width="0.07" >1</text>
<text x="268.0" y="235.9" font-size="10.5" text-anchor="start" font-weight="bold" font-style="normal" fill="#111" stroke="#111" stroke-width="0.45" >D</text>
<rect x="347.4" y="241.8" width="6.4" height="6.1" fill="#ec9286"/>
<line x1="347.4" y1="244.85000000000002" x2="353.79999999999995" y2="244.85000000000002" stroke="#bb3036" stroke-width="0.9"/>
<text x="356.8" y="247.2" font-size="5.95" text-anchor="start" font-weight="normal" font-style="normal" fill="#222" stroke="#222" stroke-width="0.07" >Not refractory</text>
<rect x="398.7" y="241.8" width="6.4" height="6.1" fill="#8db3a0"/>
<line x1="398.7" y1="244.85000000000002" x2="405.09999999999997" y2="244.85000000000002" stroke="#1d6a4e" stroke-width="0.9"/>
<text x="408" y="247.2" font-size="5.95" text-anchor="start" font-weight="normal" font-style="normal" fill="#222" stroke="#222" stroke-width="0.07" >Refractory to latest line</text>
<polygon points="302.30,256.70 305.60,266.00 309.80,275.30 313.50,281.00 317.50,287.50 318.62,287.50 318.62,290.75 320.88,290.75 320.88,294.00 322.00,294.00 323.12,294.00 323.12,297.00 325.38,297.00 325.38,300.00 326.50,300.00 327.83,300.00 327.83,302.17 330.50,302.17 330.50,304.33 333.17,304.33 333.17,306.50 334.50,306.50 336.38,306.50 336.38,308.25 340.12,308.25 340.12,310.00 342.00,310.00 343.77,310.00 343.77,312.00 347.33,312.00 347.33,314.00 349.10,314.00 354.00,314.00 354.00,317.00 358.90,317.00 361.95,317.00 361.95,318.50 365.00,318.50 368.50,318.50 368.50,321.20 372.00,321.20 373.75,321.20 373.75,323.35 377.25,323.35 377.25,325.50 379.00,325.50 382.50,325.50 382.50,327.30 386.00,327.30 395.65,327.30 395.65,329.90 405.30,329.90 410.10,329.90 410.10,332.10 419.70,332.10 419.70,334.30 424.50,334.30 429.75,334.30 429.75,335.30 435.00,335.30 441.55,335.30 441.55,336.10 448.10,336.10 472.60,336.10 474.30,338.60 512.70,338.60 512.70,361.90 474.30,361.90 472.60,359.70 435.00,359.70 426.30,359.40 424.50,357.70 418.40,357.70 418.40,356.80 412.30,356.80 408.80,355.00 400.05,355.00 400.05,354.20 391.30,354.20 389.50,352.40 372.00,351.60 368.50,351.60 368.50,349.80 365.00,349.80 355.60,349.10 351.55,349.10 351.55,346.60 347.50,346.60 345.45,346.60 345.45,344.60 341.35,344.60 341.35,342.60 339.30,342.60 337.25,342.60 337.25,340.10 333.15,340.10 333.15,337.60 331.10,337.60 330.00,337.60 330.00,335.43 327.80,335.43 327.80,333.27 325.60,333.27 325.60,331.10 324.50,331.10 323.42,331.10 323.42,327.83 321.25,327.83 321.25,324.57 319.08,324.57 319.08,321.30 318.00,321.30 316.77,321.30 316.77,316.40 314.33,316.40 314.33,311.50 313.10,311.50 311.20,305.90 308.40,296.10 306.30,284.90 304.20,273.60 302.80,259.60 302.30,257.50" fill="#8db3a0"/>
<polygon points="302.30,256.70 304.65,256.70 304.65,259.60 307.00,259.60 309.80,263.80 314.00,269.40 318.20,273.60 322.40,280.60 326.60,284.90 328.03,284.90 328.03,287.00 330.88,287.00 330.88,289.10 332.30,289.10 336.50,295.00 339.30,295.00 339.30,297.50 342.10,297.50 345.60,297.50 345.60,300.30 349.10,300.30 352.35,300.30 352.35,303.30 355.60,303.30 358.90,303.30 358.90,306.00 362.20,306.00 367.10,306.00 367.10,308.60 372.00,308.60 375.50,308.60 375.50,311.30 379.00,311.30 381.65,311.30 381.65,313.90 384.30,313.90 388.65,313.90 388.65,315.60 393.00,315.60 396.50,315.60 396.50,317.40 400.00,317.40 403.50,317.40 403.50,320.00 407.00,320.00 409.65,320.00 409.65,321.80 412.30,321.80 419.30,321.80 419.30,322.70 426.30,322.70 429.80,326.20 437.30,326.20 437.30,327.00 444.80,327.00 448.10,330.30 469.35,330.30 469.35,331.10 490.60,331.10 492.30,332.70 496.40,332.70 496.40,333.60 500.50,333.60 503.70,334.40 506.15,334.40 506.15,336.00 508.60,336.00 512.70,337.60 512.70,354.80 508.20,354.80 508.20,352.40 503.70,352.40 498.00,352.40 498.00,351.50 492.30,351.50 490.60,349.90 448.10,349.90 446.08,349.90 446.08,348.05 442.02,348.05 442.02,346.20 440.00,346.20 434.90,346.20 434.90,345.30 429.80,345.30 428.48,345.30 428.48,343.55 425.82,343.55 425.82,341.80 424.50,341.80 420.12,341.80 420.12,340.05 411.38,340.05 411.38,338.30 407.00,338.30 399.15,338.30 399.15,335.70 391.30,335.70 385.15,335.70 385.15,333.10 379.00,333.10 377.25,333.10 377.25,331.35 373.75,331.35 373.75,329.60 372.00,329.60 368.50,329.60 368.50,327.80 365.00,327.80 363.43,327.80 363.43,325.90 360.30,325.90 360.30,324.00 357.17,324.00 357.17,322.10 355.60,322.10 353.58,322.10 353.58,320.45 349.52,320.45 349.52,318.80 347.50,318.80 345.45,318.80 345.45,317.15 341.35,317.15 341.35,315.50 339.30,315.50 336.00,315.50 336.00,312.30 332.70,312.30 331.48,312.30 331.48,309.80 329.02,309.80 329.02,307.30 327.80,307.30 326.90,307.30 326.90,304.97 325.10,304.97 325.10,302.63 323.30,302.63 323.30,300.30 322.40,300.30 318.20,294.70 314.00,287.70 309.80,279.20 307.00,273.60 304.20,265.20 302.30,256.70" fill="rgba(217,37,13,0.5)"/>
<polyline points="302.30,256.70 302.80,256.80 304.20,265.20 306.30,275.00 308.40,283.50 310.50,291.90 312.60,297.50 315.40,303.10 318.20,310.10 319.60,313.10 320.83,313.10 320.83,316.35 323.27,316.35 323.27,319.60 324.50,319.60 325.75,319.60 325.75,322.05 328.25,322.05 328.25,324.50 329.50,324.50 331.12,324.50 331.12,326.15 334.38,326.15 334.38,327.80 336.00,327.80 337.65,327.80 337.65,329.85 340.95,329.85 340.95,331.90 342.60,331.90 345.85,331.90 345.85,334.40 349.10,334.40 352.35,334.40 352.35,337.60 355.60,337.60 358.90,340.10 365.45,340.10 365.45,341.00 372.00,341.00 373.80,342.80 381.65,342.80 381.65,343.70 389.50,343.70 391.30,345.40 400.05,345.40 400.05,346.30 408.80,346.30 412.30,349.80 418.40,349.80 418.40,350.70 424.50,350.70 426.30,352.40 430.65,352.40 430.65,353.20 435.00,353.20 472.60,353.20 474.30,355.60 493.50,355.60 493.50,356.50 512.70,356.50" fill="none" stroke="#1d6a4e" stroke-width="1.05" stroke-linejoin="miter"/>
<polyline points="302.30,256.70 302.80,256.80 305.60,262.40 308.40,268.00 311.20,273.60 314.00,278.50 316.80,282.00 319.60,287.70 322.40,293.30 325.20,297.50 329.50,301.50 332.70,304.90 335.30,304.90 335.30,306.60 337.90,306.60 340.70,306.60 340.70,308.50 343.50,308.50 347.00,308.50 347.00,310.00 350.50,310.00 353.30,310.00 353.30,311.80 356.10,311.80 358.35,311.80 358.35,314.70 360.60,314.70 365.00,317.40 368.50,317.40 368.50,319.20 372.00,319.20 373.75,319.20 373.75,320.95 377.25,320.95 377.25,322.70 379.00,322.70 382.50,322.70 382.50,325.30 386.00,325.30 390.40,325.30 390.40,327.00 394.80,327.00 400.05,327.00 400.05,328.80 405.30,328.80 407.90,328.80 407.90,331.40 410.50,331.40 417.50,331.40 417.50,333.20 424.50,333.20 427.15,333.20 427.15,335.80 429.80,335.80 432.40,335.80 432.40,337.60 435.00,337.60 439.90,337.60 439.90,338.50 444.80,338.50 448.10,340.90 460.35,340.90 460.35,341.70 472.60,341.70 481.60,341.70 481.60,342.60 490.60,342.60 492.30,343.40 496.40,343.40 496.40,344.20 500.50,344.20 503.70,345.00 506.15,345.00 506.15,346.60 508.60,346.60 512.70,349.10" fill="none" stroke="#bb3036" stroke-width="1.05" stroke-linejoin="miter"/>
<line x1="302.3" y1="251.6" x2="302.3" y2="367.2" stroke="#222" stroke-width="1.1"/>
<line x1="301.8" y1="366.7" x2="513.8" y2="366.7" stroke="#222" stroke-width="1.1"/>
<line x1="299.0" y1="257.00" x2="302.3" y2="257.00" stroke="#222" stroke-width="0.9"/>
<text x="296.2" y="259.05" font-size="5.8" text-anchor="end" font-weight="normal" font-style="normal" fill="#222" stroke="#222" stroke-width="0.07" >100</text>
<line x1="299.0" y1="267.97" x2="302.3" y2="267.97" stroke="#222" stroke-width="0.9"/>
<text x="296.2" y="270.02" font-size="5.8" text-anchor="end" font-weight="normal" font-style="normal" fill="#222" stroke="#222" stroke-width="0.07" >90</text>
<line x1="299.0" y1="278.94" x2="302.3" y2="278.94" stroke="#222" stroke-width="0.9"/>
<text x="296.2" y="280.99" font-size="5.8" text-anchor="end" font-weight="normal" font-style="normal" fill="#222" stroke="#222" stroke-width="0.07" >80</text>
<line x1="299.0" y1="289.91" x2="302.3" y2="289.91" stroke="#222" stroke-width="0.9"/>
<text x="296.2" y="291.96" font-size="5.8" text-anchor="end" font-weight="normal" font-style="normal" fill="#222" stroke="#222" stroke-width="0.07" >70</text>
<line x1="299.0" y1="300.88" x2="302.3" y2="300.88" stroke="#222" stroke-width="0.9"/>
<text x="296.2" y="302.93" font-size="5.8" text-anchor="end" font-weight="normal" font-style="normal" fill="#222" stroke="#222" stroke-width="0.07" >60</text>
<line x1="299.0" y1="311.85" x2="302.3" y2="311.85" stroke="#222" stroke-width="0.9"/>
<text x="296.2" y="313.90" font-size="5.8" text-anchor="end" font-weight="normal" font-style="normal" fill="#222" stroke="#222" stroke-width="0.07" >50</text>
<line x1="299.0" y1="322.82" x2="302.3" y2="322.82" stroke="#222" stroke-width="0.9"/>
<text x="296.2" y="324.87" font-size="5.8" text-anchor="end" font-weight="normal" font-style="normal" fill="#222" stroke="#222" stroke-width="0.07" >40</text>
<line x1="299.0" y1="333.79" x2="302.3" y2="333.79" stroke="#222" stroke-width="0.9"/>
<text x="296.2" y="335.84" font-size="5.8" text-anchor="end" font-weight="normal" font-style="normal" fill="#222" stroke="#222" stroke-width="0.07" >30</text>
<line x1="299.0" y1="344.76" x2="302.3" y2="344.76" stroke="#222" stroke-width="0.9"/>
<text x="296.2" y="346.81" font-size="5.8" text-anchor="end" font-weight="normal" font-style="normal" fill="#222" stroke="#222" stroke-width="0.07" >20</text>
<line x1="299.0" y1="355.73" x2="302.3" y2="355.73" stroke="#222" stroke-width="0.9"/>
<text x="296.2" y="357.78" font-size="5.8" text-anchor="end" font-weight="normal" font-style="normal" fill="#222" stroke="#222" stroke-width="0.07" >10</text>
<line x1="299.0" y1="366.70" x2="302.3" y2="366.70" stroke="#222" stroke-width="0.9"/>
<text x="296.2" y="368.75" font-size="5.8" text-anchor="end" font-weight="normal" font-style="normal" fill="#222" stroke="#222" stroke-width="0.07" >0</text>
<line x1="302.30" y1="366.7" x2="302.30" y2="370.0" stroke="#222" stroke-width="0.9"/>
<text x="302.30" y="378.2" font-size="5.8" text-anchor="middle" font-weight="normal" font-style="normal" fill="#222" stroke="#222" stroke-width="0.07" >0</text>
<line x1="369.30" y1="366.7" x2="369.30" y2="370.0" stroke="#222" stroke-width="0.9"/>
<text x="369.30" y="378.2" font-size="5.8" text-anchor="middle" font-weight="normal" font-style="normal" fill="#222" stroke="#222" stroke-width="0.07" >1</text>
<line x1="436.30" y1="366.7" x2="436.30" y2="370.0" stroke="#222" stroke-width="0.9"/>
<text x="436.30" y="378.2" font-size="5.8" text-anchor="middle" font-weight="normal" font-style="normal" fill="#222" stroke="#222" stroke-width="0.07" >2</text>
<line x1="503.30" y1="366.7" x2="503.30" y2="370.0" stroke="#222" stroke-width="0.9"/>
<text x="503.30" y="378.2" font-size="5.8" text-anchor="middle" font-weight="normal" font-style="normal" fill="#222" stroke="#222" stroke-width="0.07" >3</text>
<text x="357.2" y="390.6" font-size="8.4" text-anchor="start" font-weight="normal" font-style="normal" fill="#222" stroke="#222" stroke-width="0.07" textLength="91.6" lengthAdjust="spacingAndGlyphs" style="stroke-width:0.22">Time (years since ibrutinib initiation)</text>
<text transform="translate(280.4,348.5) rotate(-90)" font-size="8.0" fill="#222" stroke="#222" stroke-width="0.22" textLength="72.8" lengthAdjust="spacingAndGlyphs">Progression-free survival (%)</text>
<text x="296.6" y="401" font-size="6.1" text-anchor="start" font-weight="normal" font-style="normal" fill="#222" stroke="#222" stroke-width="0.07" textLength="38.2" lengthAdjust="spacingAndGlyphs">Number at risk</text>
<text x="308" y="359.4" font-size="6.1" text-anchor="start" font-weight="normal" font-style="italic" fill="#222" stroke="#222" stroke-width="0.07" >P</text>
<text x="313.6" y="359.4" font-size="6.2" text-anchor="start" font-weight="normal" font-style="normal" fill="#222" stroke="#222" stroke-width="0.07" >= .0078</text>
<line x1="278.8" y1="408.70" x2="290.8" y2="408.70" stroke="#b02848" stroke-width="1.3"/>
<text x="302.30" y="410.60" font-size="5.8" text-anchor="middle" font-weight="normal" font-style="normal" fill="#222" stroke="#222" stroke-width="0.07" >104</text>
<text x="369.30" y="410.60" font-size="5.8" text-anchor="middle" font-weight="normal" font-style="normal" fill="#222" stroke="#222" stroke-width="0.07" >40</text>
<text x="436.30" y="410.60" font-size="5.8" text-anchor="middle" font-weight="normal" font-style="normal" fill="#222" stroke="#222" stroke-width="0.07" >23</text>
<text x="503.30" y="410.60" font-size="5.8" text-anchor="middle" font-weight="normal" font-style="normal" fill="#222" stroke="#222" stroke-width="0.07" >14</text>
<line x1="278.8" y1="418.35" x2="290.8" y2="418.35" stroke="#2a5040" stroke-width="1.3"/>
<text x="302.30" y="420.25" font-size="5.8" text-anchor="middle" font-weight="normal" font-style="normal" fill="#222" stroke="#222" stroke-width="0.07" >42</text>
<text x="369.30" y="420.25" font-size="5.8" text-anchor="middle" font-weight="normal" font-style="normal" fill="#222" stroke="#222" stroke-width="0.07" >10</text>
<text x="436.30" y="420.25" font-size="5.8" text-anchor="middle" font-weight="normal" font-style="normal" fill="#222" stroke="#222" stroke-width="0.07" >5</text>
<text x="503.30" y="420.25" font-size="5.8" text-anchor="middle" font-weight="normal" font-style="normal" fill="#222" stroke="#222" stroke-width="0.07" >4</text>
<rect x="0.5" y="0.5" width="519" height="427" fill="none" stroke="#555" stroke-width="1"/>
</svg></div></body></html>
